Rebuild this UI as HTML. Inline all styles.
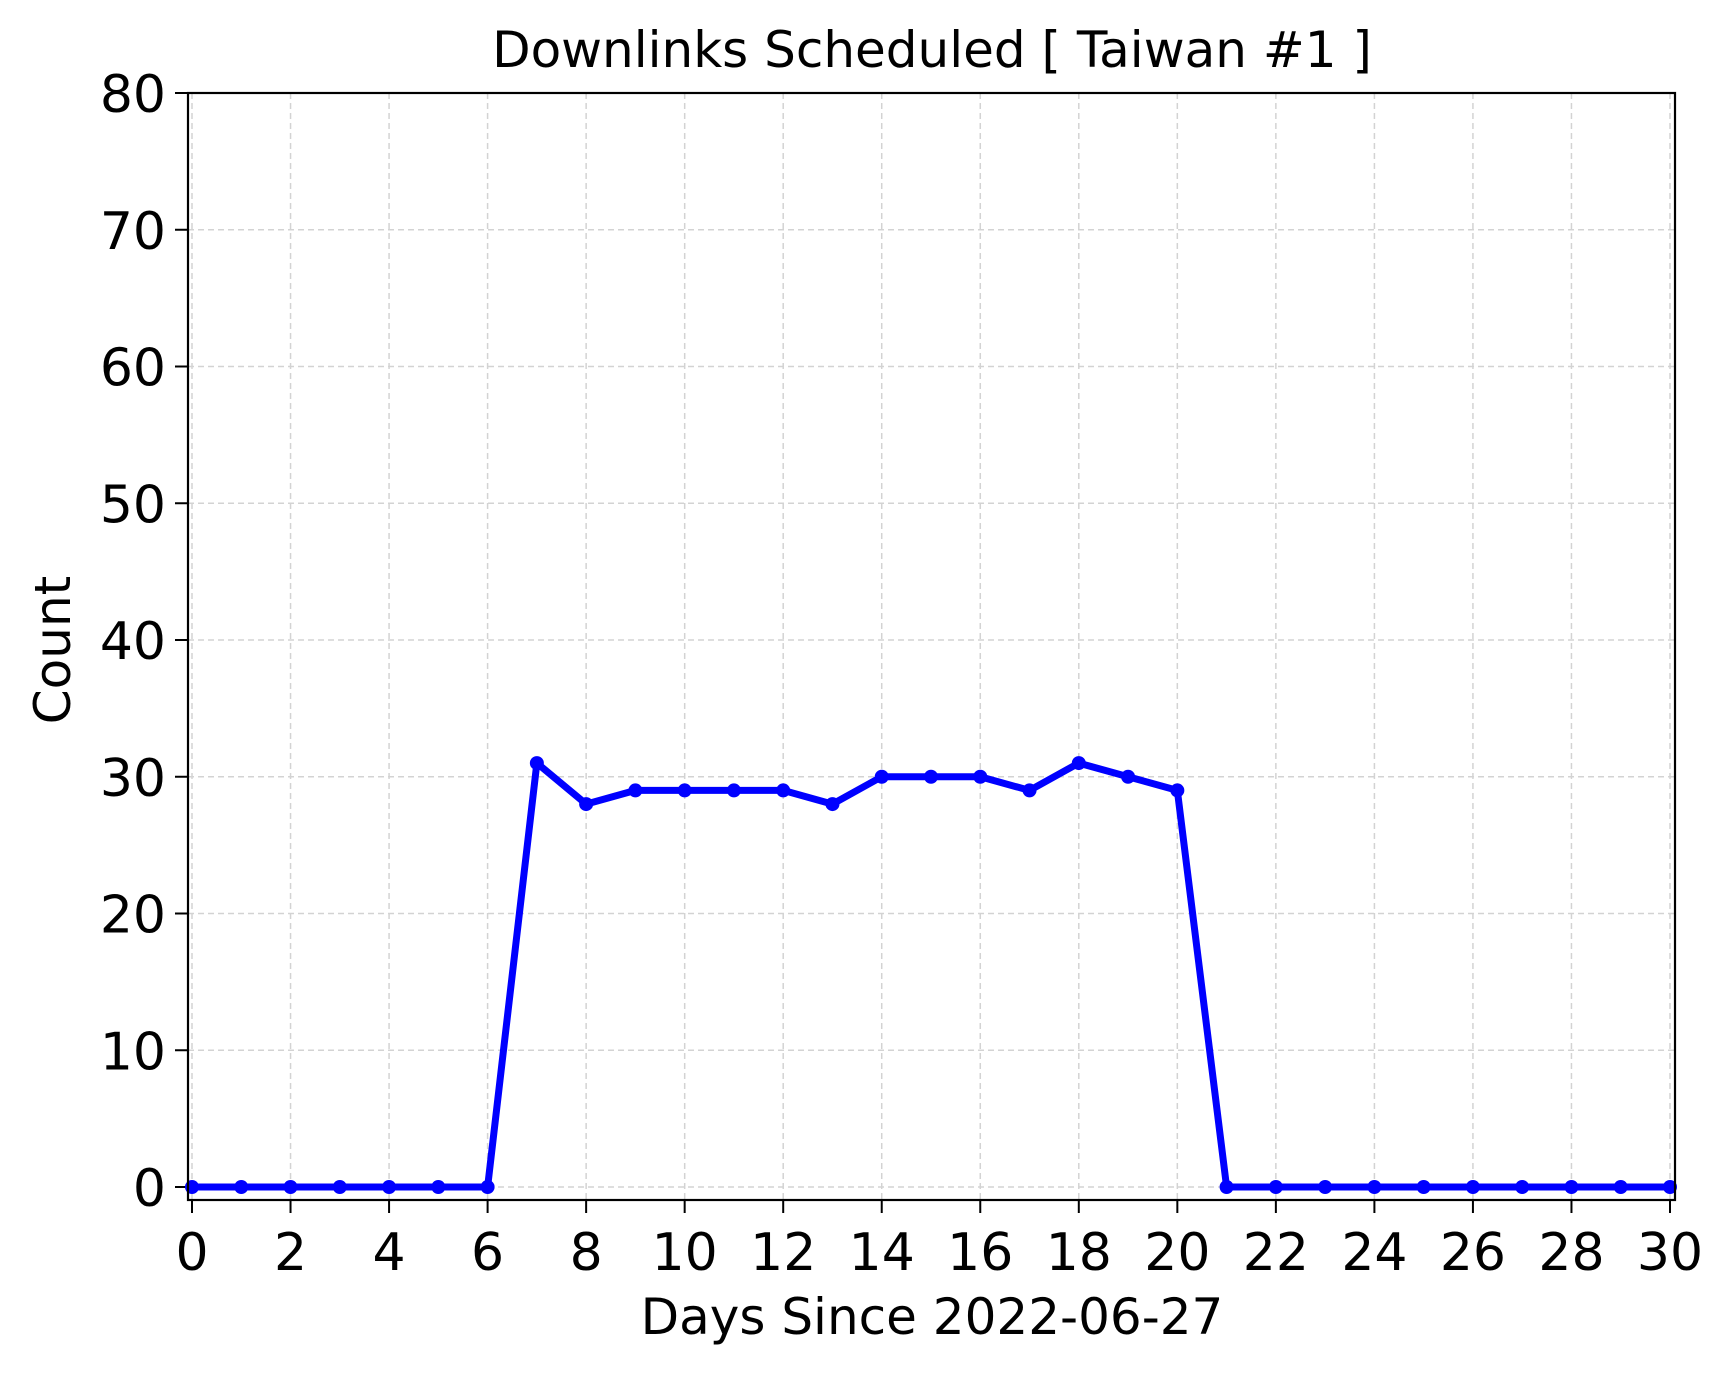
<!DOCTYPE html>
<html><head><meta charset="utf-8"><style>
html,body{margin:0;padding:0;background:#fff}
svg{display:block;font-family:"DejaVu Sans","Liberation Sans",sans-serif}
</style></head><body>
<svg id="chart" width="1732" height="1373" viewBox="0 0 1732 1373">
<rect width="1732" height="1373" fill="#fff"/>
<g id="grid"></g>
<g id="ticks"></g>
<g id="series"></g>
<rect x="188" y="93" width="1487" height="1107" fill="none" stroke="#000" stroke-width="2.2"/>
<text x="932" y="67" font-size="50" text-anchor="middle">Downlinks Scheduled [ Taiwan #1 ]</text>
<text x="932" y="1334" font-size="50" text-anchor="middle">Days Since 2022-06-27</text>
<text x="0" y="0" font-size="50" text-anchor="middle" transform="translate(70,650) rotate(-90)">Count</text>
</svg>
<script>
const days = [0,1,2,3,4,5,6,7,8,9,10,11,12,13,14,15,16,17,18,19,20,21,22,23,24,25,26,27,28,29,30];
const counts = [0,0,0,0,0,0,0,31,28,29,29,29,29,28,30,30,30,29,31,30,29,0,0,0,0,0,0,0,0,0,0];
const xTicks = [0,2,4,6,8,10,12,14,16,18,20,22,24,26,28,30];
const yTicks = [0,10,20,30,40,50,60,70,80];
const NS = "http://www.w3.org/2000/svg";
const X0 = 192, X1 = 1670, Y0 = 1187, Y80 = 93;
function xs(v){return X0 + (v-0)/(30-0)*(X1-X0);}
function ys(v){return Y0 - v/80*(Y0-Y80);}
function mk(tag, attrs, parent){const e=document.createElementNS(NS,tag);for(const k in attrs)e.setAttribute(k,attrs[k]);parent.appendChild(e);return e;}
const grid=document.getElementById('grid'), ticks=document.getElementById('ticks'), series=document.getElementById('series');
xTicks.forEach(t=>{
  const x=xs(t);
  const g=mk('line',{x1:x,x2:x,y1:93,y2:1200,stroke:'#d3d3d3','stroke-width':1.5,'stroke-dasharray':'6,4'},grid);
  
  
  const tk=mk('line',{x1:x,x2:x,y1:1200,y2:1213,stroke:'#000','stroke-width':2},ticks);
  
  
  const lb=mk('text',{x:x,y:1270,'font-size':52,'text-anchor':'middle'},ticks);
  lb.textContent=t;
  
  
});
yTicks.forEach(t=>{
  const y=ys(t);
  const g=mk('line',{x1:188,x2:1675,y1:y,y2:y,stroke:'#d3d3d3','stroke-width':1.5,'stroke-dasharray':'6,4'},grid);
  
  
  const tk=mk('line',{x1:175,x2:188,y1:y,y2:y,stroke:'#000','stroke-width':2},ticks);
  
  
  const lb=mk('text',{x:166,y:y+19,'font-size':52,'text-anchor':'end'},ticks);
  lb.textContent=t;
  
  
});
const pts=days.map((d,i)=>xs(d)+','+ys(counts[i])).join(' ');
const pl=mk('polyline',{points:pts,fill:'none',stroke:'#0000ff','stroke-width':7,'stroke-linejoin':'round'},series);


days.forEach((d,i)=>{
  const c=mk('circle',{cx:xs(d),cy:ys(counts[i]),r:7,fill:'#0000ff'},series);
  
  
});
</script>
</body></html>
